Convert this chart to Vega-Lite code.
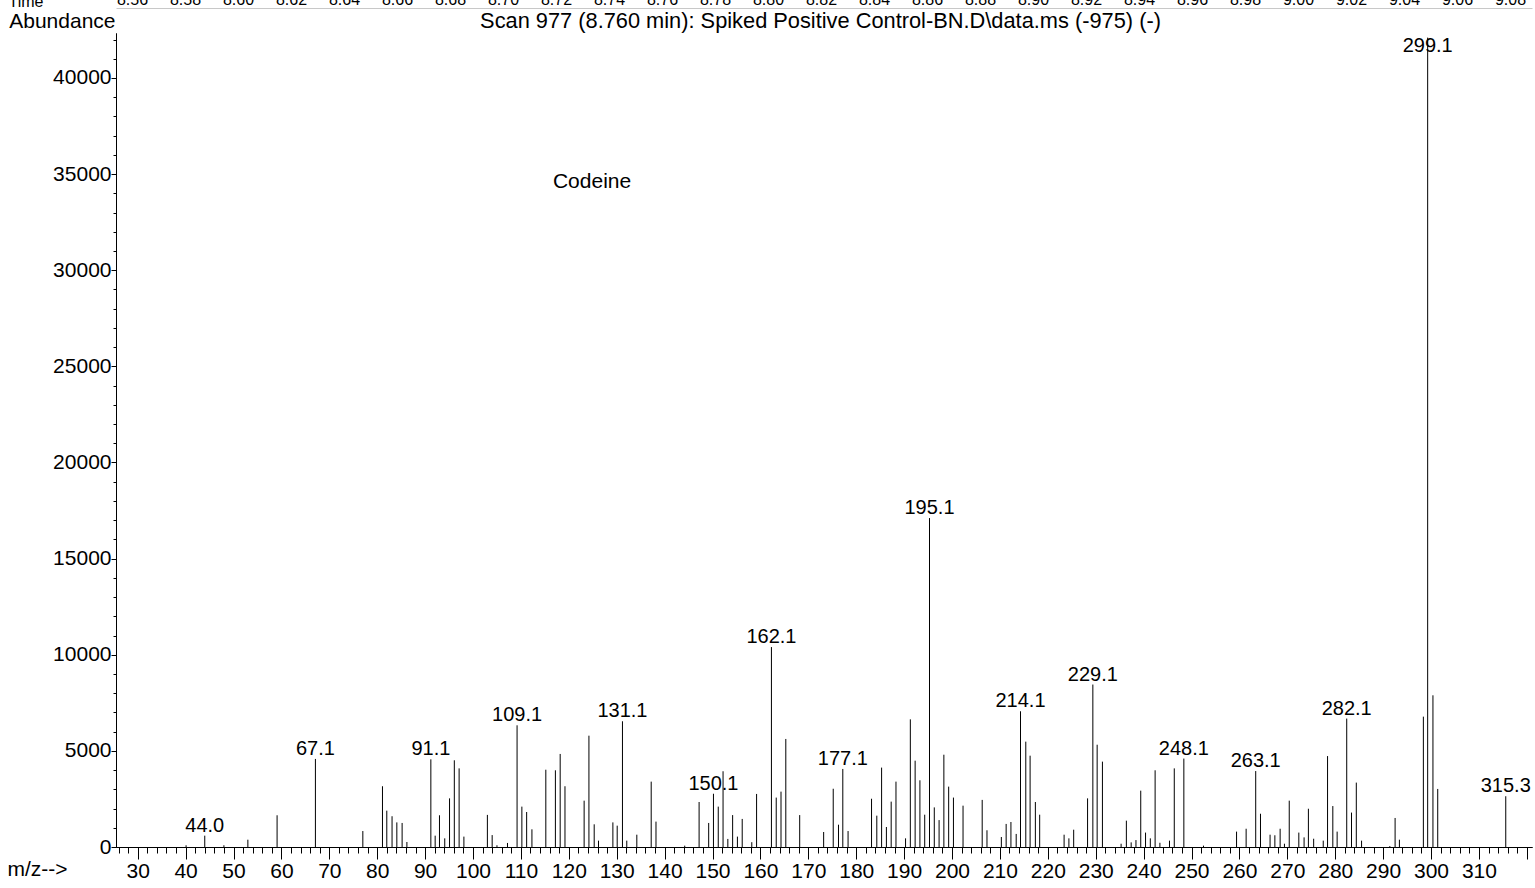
{
  "$schema": "https://vega.github.io/schema/vega-lite/v6.json",
  "autosize": {"type": "none"},
  "padding": {"left": 116, "top": 33, "right": 3, "bottom": 41},
  "width": 1416,
  "height": 814,
  "background": "white",
  "datasets": {
    "peaks": [
      {"mz": 40.1, "abundance": 90, "label": ""},
      {"mz": 44.0, "abundance": 590, "label": "44.0"},
      {"mz": 48.0, "abundance": 90, "label": ""},
      {"mz": 53.0, "abundance": 380, "label": ""},
      {"mz": 59.1, "abundance": 1650, "label": ""},
      {"mz": 67.1, "abundance": 4580, "label": "67.1"},
      {"mz": 77.0, "abundance": 830, "label": ""},
      {"mz": 81.1, "abundance": 3160, "label": ""},
      {"mz": 82.0, "abundance": 1890, "label": ""},
      {"mz": 83.1, "abundance": 1600, "label": ""},
      {"mz": 84.1, "abundance": 1280, "label": ""},
      {"mz": 85.2, "abundance": 1250, "label": ""},
      {"mz": 86.2, "abundance": 260, "label": ""},
      {"mz": 91.2, "abundance": 4560, "label": "91.1"},
      {"mz": 92.1, "abundance": 590, "label": ""},
      {"mz": 93.0, "abundance": 1650, "label": ""},
      {"mz": 94.1, "abundance": 450, "label": ""},
      {"mz": 95.1, "abundance": 2530, "label": ""},
      {"mz": 96.1, "abundance": 4510, "label": ""},
      {"mz": 97.1, "abundance": 4090, "label": ""},
      {"mz": 98.1, "abundance": 540, "label": ""},
      {"mz": 103.0, "abundance": 1670, "label": ""},
      {"mz": 104.0, "abundance": 620, "label": ""},
      {"mz": 105.0, "abundance": 90, "label": ""},
      {"mz": 107.2, "abundance": 210, "label": ""},
      {"mz": 109.2, "abundance": 6330, "label": "109.1"},
      {"mz": 110.2, "abundance": 2100, "label": ""},
      {"mz": 111.2, "abundance": 1820, "label": ""},
      {"mz": 112.3, "abundance": 920, "label": ""},
      {"mz": 115.2, "abundance": 4020, "label": ""},
      {"mz": 117.2, "abundance": 3990, "label": ""},
      {"mz": 118.2, "abundance": 4840, "label": ""},
      {"mz": 119.2, "abundance": 3160, "label": ""},
      {"mz": 123.2, "abundance": 2410, "label": ""},
      {"mz": 124.2, "abundance": 5790, "label": ""},
      {"mz": 125.3, "abundance": 1180, "label": ""},
      {"mz": 126.2, "abundance": 330, "label": ""},
      {"mz": 129.2, "abundance": 1280, "label": ""},
      {"mz": 130.1, "abundance": 1110, "label": ""},
      {"mz": 131.2, "abundance": 6540, "label": "131.1"},
      {"mz": 132.1, "abundance": 330, "label": ""},
      {"mz": 134.2, "abundance": 640, "label": ""},
      {"mz": 137.2, "abundance": 3400, "label": ""},
      {"mz": 138.2, "abundance": 1320, "label": ""},
      {"mz": 144.2, "abundance": 70, "label": ""},
      {"mz": 147.2, "abundance": 2340, "label": ""},
      {"mz": 149.2, "abundance": 1250, "label": ""},
      {"mz": 150.2, "abundance": 2770, "label": "150.1"},
      {"mz": 151.2, "abundance": 2100, "label": ""},
      {"mz": 152.2, "abundance": 3940, "label": ""},
      {"mz": 153.2, "abundance": 420, "label": ""},
      {"mz": 154.2, "abundance": 1660, "label": ""},
      {"mz": 155.2, "abundance": 540, "label": ""},
      {"mz": 156.2, "abundance": 1460, "label": ""},
      {"mz": 158.2, "abundance": 250, "label": ""},
      {"mz": 159.2, "abundance": 2760, "label": ""},
      {"mz": 162.3, "abundance": 10400, "label": "162.1"},
      {"mz": 163.3, "abundance": 2570, "label": ""},
      {"mz": 164.3, "abundance": 2880, "label": ""},
      {"mz": 165.3, "abundance": 5620, "label": ""},
      {"mz": 168.2, "abundance": 1660, "label": ""},
      {"mz": 173.2, "abundance": 780, "label": ""},
      {"mz": 175.2, "abundance": 3030, "label": ""},
      {"mz": 176.3, "abundance": 1160, "label": ""},
      {"mz": 177.2, "abundance": 4060, "label": "177.1"},
      {"mz": 178.3, "abundance": 830, "label": ""},
      {"mz": 183.2, "abundance": 2510, "label": ""},
      {"mz": 184.3, "abundance": 1630, "label": ""},
      {"mz": 185.3, "abundance": 4130, "label": ""},
      {"mz": 186.3, "abundance": 1040, "label": ""},
      {"mz": 187.3, "abundance": 2360, "label": ""},
      {"mz": 188.3, "abundance": 3400, "label": ""},
      {"mz": 190.3, "abundance": 450, "label": ""},
      {"mz": 191.3, "abundance": 6640, "label": ""},
      {"mz": 192.3, "abundance": 4490, "label": ""},
      {"mz": 193.3, "abundance": 3470, "label": ""},
      {"mz": 194.3, "abundance": 1680, "label": ""},
      {"mz": 195.3, "abundance": 17110, "label": "195.1"},
      {"mz": 196.3, "abundance": 2060, "label": ""},
      {"mz": 197.3, "abundance": 1400, "label": ""},
      {"mz": 198.3, "abundance": 4800, "label": ""},
      {"mz": 199.3, "abundance": 3140, "label": ""},
      {"mz": 200.3, "abundance": 2570, "label": ""},
      {"mz": 202.3, "abundance": 2150, "label": ""},
      {"mz": 206.3, "abundance": 2450, "label": ""},
      {"mz": 207.3, "abundance": 870, "label": ""},
      {"mz": 210.3, "abundance": 520, "label": ""},
      {"mz": 211.3, "abundance": 1200, "label": ""},
      {"mz": 212.3, "abundance": 1300, "label": ""},
      {"mz": 213.4, "abundance": 680, "label": ""},
      {"mz": 214.3, "abundance": 7060, "label": "214.1"},
      {"mz": 215.4, "abundance": 5480, "label": ""},
      {"mz": 216.3, "abundance": 4750, "label": ""},
      {"mz": 217.4, "abundance": 2340, "label": ""},
      {"mz": 218.3, "abundance": 1680, "label": ""},
      {"mz": 223.4, "abundance": 640, "label": ""},
      {"mz": 224.4, "abundance": 450, "label": ""},
      {"mz": 225.4, "abundance": 900, "label": ""},
      {"mz": 228.3, "abundance": 2530, "label": ""},
      {"mz": 229.4, "abundance": 8450, "label": "229.1"},
      {"mz": 230.3, "abundance": 5320, "label": ""},
      {"mz": 231.4, "abundance": 4440, "label": ""},
      {"mz": 235.3, "abundance": 170, "label": ""},
      {"mz": 236.4, "abundance": 1370, "label": ""},
      {"mz": 237.4, "abundance": 240, "label": ""},
      {"mz": 238.4, "abundance": 360, "label": ""},
      {"mz": 239.4, "abundance": 2930, "label": ""},
      {"mz": 240.4, "abundance": 750, "label": ""},
      {"mz": 241.4, "abundance": 450, "label": ""},
      {"mz": 242.4, "abundance": 3990, "label": ""},
      {"mz": 243.4, "abundance": 220, "label": ""},
      {"mz": 245.4, "abundance": 330, "label": ""},
      {"mz": 246.4, "abundance": 4090, "label": ""},
      {"mz": 248.4, "abundance": 4600, "label": "248.1"},
      {"mz": 252.5, "abundance": 70, "label": ""},
      {"mz": 259.4, "abundance": 800, "label": ""},
      {"mz": 261.4, "abundance": 950, "label": ""},
      {"mz": 263.4, "abundance": 3950, "label": "263.1"},
      {"mz": 264.4, "abundance": 1730, "label": ""},
      {"mz": 266.4, "abundance": 640, "label": ""},
      {"mz": 267.4, "abundance": 610, "label": ""},
      {"mz": 268.5, "abundance": 950, "label": ""},
      {"mz": 269.4, "abundance": 170, "label": ""},
      {"mz": 270.4, "abundance": 2410, "label": ""},
      {"mz": 272.4, "abundance": 750, "label": ""},
      {"mz": 273.5, "abundance": 500, "label": ""},
      {"mz": 274.4, "abundance": 1990, "label": ""},
      {"mz": 275.5, "abundance": 430, "label": ""},
      {"mz": 277.5, "abundance": 330, "label": ""},
      {"mz": 278.4, "abundance": 4730, "label": ""},
      {"mz": 279.5, "abundance": 2130, "label": ""},
      {"mz": 280.4, "abundance": 800, "label": ""},
      {"mz": 282.4, "abundance": 6680, "label": "282.1"},
      {"mz": 283.4, "abundance": 1790, "label": ""},
      {"mz": 284.4, "abundance": 3350, "label": ""},
      {"mz": 285.5, "abundance": 330, "label": ""},
      {"mz": 291.4, "abundance": 50, "label": ""},
      {"mz": 292.5, "abundance": 1510, "label": ""},
      {"mz": 293.4, "abundance": 380, "label": ""},
      {"mz": 298.4, "abundance": 6780, "label": ""},
      {"mz": 299.3, "abundance": 42100, "label": "299.1"},
      {"mz": 300.4, "abundance": 7890, "label": ""},
      {"mz": 301.4, "abundance": 3020, "label": ""},
      {"mz": 315.6, "abundance": 2640, "label": "315.3"}
    ],
    "times": [
      {"t": 8.56}, {"t": 8.58}, {"t": 8.60}, {"t": 8.62}, {"t": 8.64}, {"t": 8.66}, {"t": 8.68},
      {"t": 8.70}, {"t": 8.72}, {"t": 8.74}, {"t": 8.76}, {"t": 8.78}, {"t": 8.80}, {"t": 8.82},
      {"t": 8.84}, {"t": 8.86}, {"t": 8.88}, {"t": 8.90}, {"t": 8.92}, {"t": 8.94}, {"t": 8.96},
      {"t": 8.98}, {"t": 9.00}, {"t": 9.02}, {"t": 9.04}, {"t": 9.06}, {"t": 9.08}
    ],
    "notes": [
      {"mz": 124.85, "abundance": 34590, "note": "Codeine"}
    ]
  },
  "layer": [
    {
      "data": {"name": "peaks"},
      "mark": {"type": "rule", "color": "black", "strokeWidth": 1},
      "encoding": {
        "x": {
          "field": "mz", "type": "quantitative",
          "scale": {"domain": [25.47, 321.08], "nice": false, "zero": false},
          "axis": {
            "orient": "bottom", "title": null, "labels": false, "tickSize": 6,
            "values": [26,28,30,32,34,36,38,40,42,44,46,48,50,52,54,56,58,60,62,64,66,68,70,72,74,76,78,80,82,84,86,88,90,92,94,96,98,100,102,104,106,108,110,112,114,116,118,120,122,124,126,128,130,132,134,136,138,140,142,144,146,148,150,152,154,156,158,160,162,164,166,168,170,172,174,176,178,180,182,184,186,188,190,192,194,196,198,200,202,204,206,208,210,212,214,216,218,220,222,224,226,228,230,232,234,236,238,240,242,244,246,248,250,252,254,256,258,260,262,264,266,268,270,272,274,276,278,280,282,284,286,288,290,292,294,296,298,300,302,304,306,308,310,312,314,316,318,320]
          }
        },
        "y": {
          "field": "abundance", "type": "quantitative",
          "scale": {"domain": [0, 42340], "nice": false, "zero": true},
          "axis": {
            "orient": "left", "labels": false, "tickSize": 3,
            "values": [0,1000,2000,3000,4000,5000,6000,7000,8000,9000,10000,11000,12000,13000,14000,15000,16000,17000,18000,19000,20000,21000,22000,23000,24000,25000,26000,27000,28000,29000,30000,31000,32000,33000,34000,35000,36000,37000,38000,39000,40000,41000,42000],
            "title": "Abundance", "titleAngle": 0, "titleX": -1, "titleY": -6,
            "titleAlign": "right", "titleBaseline": "alphabetic", "titleFontSize": 21
          }
        },
        "y2": {"datum": 0}
      }
    },
    {
      "data": {"name": "peaks"},
      "transform": [
        {"filter": "datum.label != ''"},
        {"calculate": "min(datum.abundance, 41150)", "as": "labelY"}
      ],
      "mark": {"type": "text", "align": "center", "baseline": "alphabetic", "dy": -4, "fontSize": 20, "font": "Liberation Sans", "color": "black"},
      "encoding": {
        "x": {
          "field": "mz", "type": "quantitative",
          "scale": {"domain": [25.47, 321.08], "nice": false, "zero": false},
          "axis": {
            "orient": "bottom", "tickSize": 12, "labelPadding": 1, "labelFontSize": 21,
            "values": [30,40,50,60,70,80,90,100,110,120,130,140,150,160,170,180,190,200,210,220,230,240,250,260,270,280,290,300,310,320],
            "labelExpr": "datum.value > 315 ? '' : datum.label",
            "labelFlush": false, "labelOverlap": false,
            "title": "m/z-->", "titleX": -109, "titleY": 28, "titleAlign": "left",
            "titleBaseline": "alphabetic", "titleFontSize": 21
          }
        },
        "y": {
          "field": "labelY", "type": "quantitative",
          "axis": {
            "orient": "left", "tickSize": 5, "labelPadding": 0, "labelFontSize": 21,
            "values": [0,5000,10000,15000,20000,25000,30000,35000,40000],
            "format": "d", "title": null, "labelFlush": false, "labelOverlap": false
          }
        },
        "text": {"field": "label"}
      }
    },
    {
      "data": {"name": "notes"},
      "mark": {"type": "text", "align": "center", "baseline": "middle", "fontSize": 21, "font": "Liberation Sans", "color": "black"},
      "encoding": {
        "x": {
          "field": "mz", "type": "quantitative",
          "scale": {"domain": [25.47, 321.08], "nice": false, "zero": false},
          "axis": {
            "orient": "top", "labels": false, "ticks": false, "domain": false,
            "title": "Scan 977 (8.760 min): Spiked Positive Control-BN.D\\data.ms (-975) (-)",
            "titleX": 704, "titleY": -6, "titleAlign": "center", "titleBaseline": "alphabetic",
            "titleFontSize": 21.8
          }
        },
        "y": {"field": "abundance", "type": "quantitative", "axis": null},
        "text": {"field": "note"}
      }
    },
    {
      "data": {"name": "times"},
      "mark": {"type": "point", "opacity": 0},
      "encoding": {
        "x": {
          "field": "t", "type": "quantitative",
          "scale": {"domain": [8.55396, 9.0883], "nice": false, "zero": false},
          "axis": {
            "orient": "top", "offset": 25, "ticks": false, "domain": true, "domainColor": "#c8c8c8",
            "labelPadding": 1, "labelFontSize": 16, "format": ".2f",
            "values": [8.56,8.58,8.60,8.62,8.64,8.66,8.68,8.70,8.72,8.74,8.76,8.78,8.80,8.82,8.84,8.86,8.88,8.90,8.92,8.94,8.96,8.98,9.00,9.02,9.04,9.06,9.08],
            "labelFlush": false, "labelOverlap": false,
            "title": "Time", "titleX": -108, "titleY": -2, "titleAlign": "left",
            "titleBaseline": "alphabetic", "titleFontSize": 16
          }
        }
      }
    }
  ],
  "resolve": {
    "scale": {"x": "independent"},
    "axis": {"x": "independent", "y": "independent"}
  },
  "config": {
    "view": {"stroke": null},
    "font": "Liberation Sans",
    "axis": {
      "grid": false,
      "domainColor": "black",
      "tickColor": "black",
      "labelColor": "black",
      "titleColor": "black",
      "labelFont": "Liberation Sans",
      "titleFont": "Liberation Sans",
      "titleFontWeight": "normal",
      "labelFontSize": 21,
      "titleFontSize": 21
    },
    "text": {"font": "Liberation Sans"}
  }
}
